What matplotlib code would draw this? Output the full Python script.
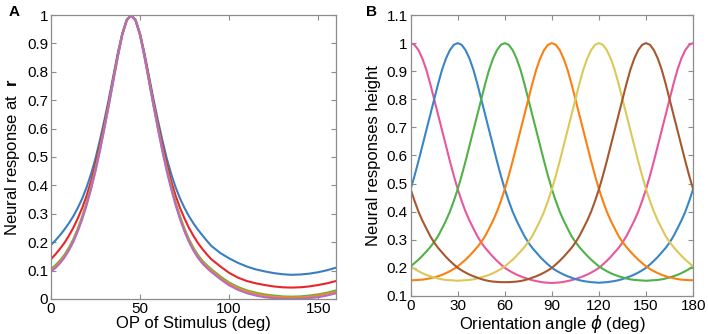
import matplotlib
matplotlib.use("Agg")
import matplotlib.pyplot as plt
from matplotlib.ticker import FuncFormatter

plt.rcParams['font.family'] = ['Liberation Sans', 'DejaVu Sans']
plt.rcParams['mathtext.fontset'] = 'custom'
plt.rcParams['mathtext.rm'] = 'Liberation Sans'
plt.rcParams['mathtext.bf'] = 'Liberation Sans:bold'
plt.rcParams['mathtext.it'] = 'DejaVu Sans:italic'

# ---- panel A data ----
xa = [0, 2.5, 5, 7.5, 10, 12.5, 15, 17.5, 20, 22.5, 25, 27.5, 30, 32.5, 35, 37.5, 40, 42.5,
      45,
      47.5, 50, 52.5, 55, 57.5, 60, 62.5, 65, 67.5, 70, 72.5, 75, 77.5, 80, 82.5, 85, 87.5, 90,
      95, 100, 105, 110, 115, 120, 125, 130, 135, 140, 145, 150, 155, 160]
a_blue = [0.19, 0.206, 0.224, 0.244, 0.266, 0.291, 0.32, 0.353, 0.393, 0.44, 0.495, 0.56, 0.63, 0.705, 0.785, 0.865, 0.935, 0.983,
          1.0,
          0.983, 0.935, 0.865, 0.785, 0.705, 0.63, 0.56, 0.495, 0.44, 0.393, 0.353, 0.32, 0.291, 0.266, 0.244, 0.224, 0.205, 0.187,
          0.162, 0.143, 0.127, 0.114, 0.104, 0.097, 0.091, 0.087, 0.085, 0.086, 0.089, 0.094, 0.101, 0.11]
a_red = [0.14, 0.157, 0.176, 0.197, 0.222, 0.25, 0.283, 0.32, 0.363, 0.415, 0.475, 0.543, 0.617, 0.695, 0.778, 0.86, 0.932, 0.982,
         1.0,
         0.982, 0.932, 0.86, 0.778, 0.695, 0.617, 0.543, 0.475, 0.415, 0.363, 0.32, 0.283, 0.25, 0.222, 0.197, 0.176, 0.157, 0.14,
         0.115, 0.092, 0.075, 0.063, 0.055, 0.049, 0.044, 0.041, 0.04, 0.041, 0.044, 0.049, 0.055, 0.063]
a_green = [0.105, 0.119, 0.135, 0.155, 0.18, 0.21, 0.247, 0.29, 0.34, 0.397, 0.46, 0.53, 0.607, 0.688, 0.772, 0.855, 0.93, 0.981,
           1.0,
           0.981, 0.93, 0.855, 0.772, 0.688, 0.607, 0.53, 0.46, 0.397, 0.34, 0.29, 0.247, 0.21, 0.18, 0.155, 0.135, 0.119, 0.105,
           0.08, 0.058, 0.042, 0.03, 0.022, 0.016, 0.012, 0.009, 0.008, 0.009, 0.012, 0.016, 0.022, 0.03]
a_orange = [0.10, 0.114, 0.13, 0.15, 0.175, 0.205, 0.242, 0.285, 0.335, 0.392, 0.455, 0.526, 0.604, 0.685, 0.77, 0.854, 0.93, 0.981,
            1.0,
            0.981, 0.93, 0.854, 0.77, 0.685, 0.604, 0.526, 0.455, 0.392, 0.335, 0.285, 0.242, 0.205, 0.175, 0.15, 0.13, 0.114, 0.10,
            0.075, 0.054, 0.038, 0.026, 0.018, 0.012, 0.008, 0.006, 0.005, 0.006, 0.008, 0.012, 0.018, 0.025]
a_purple = [0.095, 0.109, 0.125, 0.145, 0.17, 0.2, 0.237, 0.28, 0.33, 0.387, 0.45, 0.522, 0.6, 0.682, 0.767, 0.852, 0.929, 0.98,
            1.0,
            0.98, 0.929, 0.852, 0.767, 0.682, 0.6, 0.522, 0.45, 0.387, 0.33, 0.28, 0.237, 0.2, 0.17, 0.145, 0.125, 0.109, 0.095,
            0.07, 0.048, 0.032, 0.02, 0.012, 0.006, 0.003, 0.001, 0.0, 0.001, 0.003, 0.006, 0.012, 0.02]

# ---- panel B data, x every 2.5 deg from 0 to 180 ----
xb = [i * 2.5 for i in range(73)]
b_pink = [1.0, 0.994, 0.975, 0.945, 0.905, 0.855, 0.80, 0.745, 0.69, 0.635, 0.58, 0.528, 0.48,
          0.438, 0.40, 0.368, 0.34, 0.313, 0.29, 0.271, 0.255, 0.239, 0.225, 0.212, 0.20, 0.191,
          0.183, 0.176, 0.17, 0.165, 0.16, 0.156, 0.153, 0.15, 0.148, 0.147, 0.146,
          0.147, 0.148, 0.15, 0.153, 0.156, 0.16, 0.165, 0.17, 0.176, 0.183, 0.191, 0.20,
          0.212, 0.225, 0.239, 0.255, 0.271, 0.29, 0.313, 0.34, 0.368, 0.40, 0.438, 0.48,
          0.528, 0.58, 0.635, 0.69, 0.745, 0.80, 0.855, 0.905, 0.945, 0.975, 0.994, 1.0]
b_blue = [0.48, 0.528, 0.58, 0.635, 0.69, 0.745, 0.80, 0.855, 0.905, 0.945, 0.975, 0.994, 1.0,
          0.994, 0.975, 0.945, 0.905, 0.855, 0.80, 0.745, 0.69, 0.635, 0.58, 0.528, 0.48,
          0.438, 0.40, 0.368, 0.34, 0.313, 0.29, 0.271, 0.255, 0.239, 0.225, 0.212, 0.20,
          0.191, 0.183, 0.176, 0.17, 0.165, 0.16, 0.156, 0.153, 0.151, 0.149, 0.148, 0.147,
          0.148, 0.149, 0.151, 0.153, 0.156, 0.16, 0.165, 0.17, 0.176, 0.183, 0.191, 0.20,
          0.212, 0.225, 0.239, 0.255, 0.271, 0.29, 0.313, 0.34, 0.368, 0.40, 0.438, 0.48]
b_green = [0.205, 0.217, 0.229, 0.243, 0.258, 0.274, 0.292, 0.313, 0.34, 0.368, 0.40, 0.438, 0.48,
           0.528, 0.58, 0.635, 0.69, 0.745, 0.80, 0.855, 0.905, 0.945, 0.975, 0.994, 1.0,
           0.994, 0.975, 0.945, 0.905, 0.855, 0.80, 0.745, 0.69, 0.635, 0.58, 0.528, 0.48,
           0.438, 0.40, 0.368, 0.34, 0.313, 0.292, 0.274, 0.258, 0.243, 0.229, 0.217, 0.205,
           0.196, 0.188, 0.181, 0.175, 0.17, 0.166, 0.162, 0.159, 0.157, 0.156, 0.155, 0.154,
           0.155, 0.156, 0.157, 0.159, 0.162, 0.166, 0.17, 0.175, 0.181, 0.188, 0.196, 0.205]
b_orange = [0.156, 0.156, 0.157, 0.158, 0.16, 0.163, 0.166, 0.17, 0.175, 0.181, 0.188, 0.196, 0.205,
            0.217, 0.229, 0.243, 0.258, 0.274, 0.292, 0.313, 0.34, 0.368, 0.40, 0.438, 0.48,
            0.528, 0.58, 0.635, 0.69, 0.745, 0.80, 0.855, 0.905, 0.945, 0.975, 0.994, 1.0,
            0.994, 0.975, 0.945, 0.905, 0.855, 0.80, 0.745, 0.69, 0.635, 0.58, 0.528, 0.48,
            0.438, 0.40, 0.368, 0.34, 0.313, 0.292, 0.274, 0.258, 0.243, 0.229, 0.217, 0.205,
            0.196, 0.188, 0.181, 0.175, 0.17, 0.166, 0.163, 0.16, 0.158, 0.157, 0.156, 0.156]
b_yellow = [0.205, 0.196, 0.188, 0.181, 0.175, 0.17, 0.166, 0.162, 0.159, 0.157, 0.156, 0.155, 0.154,
            0.155, 0.156, 0.157, 0.159, 0.162, 0.166, 0.17, 0.175, 0.181, 0.188, 0.196, 0.205,
            0.217, 0.229, 0.243, 0.258, 0.274, 0.292, 0.313, 0.34, 0.368, 0.40, 0.438, 0.48,
            0.528, 0.58, 0.635, 0.69, 0.745, 0.80, 0.855, 0.905, 0.945, 0.975, 0.994, 1.0,
            0.994, 0.975, 0.945, 0.905, 0.855, 0.80, 0.745, 0.69, 0.635, 0.58, 0.528, 0.48,
            0.438, 0.40, 0.368, 0.34, 0.313, 0.292, 0.274, 0.258, 0.243, 0.229, 0.217, 0.205]
b_brown = [0.48, 0.438, 0.40, 0.368, 0.34, 0.313, 0.29, 0.271, 0.255, 0.239, 0.225, 0.212, 0.20,
           0.191, 0.183, 0.176, 0.17, 0.165, 0.16, 0.156, 0.153, 0.151, 0.15, 0.149, 0.149,
           0.149, 0.15, 0.151, 0.153, 0.156, 0.16, 0.165, 0.17, 0.176, 0.183, 0.191, 0.20,
           0.212, 0.225, 0.239, 0.255, 0.271, 0.29, 0.313, 0.34, 0.368, 0.40, 0.438, 0.48,
           0.528, 0.58, 0.635, 0.69, 0.745, 0.80, 0.855, 0.905, 0.945, 0.975, 0.994, 1.0,
           0.994, 0.975, 0.945, 0.905, 0.855, 0.80, 0.745, 0.69, 0.635, 0.58, 0.528, 0.48]

fmt = FuncFormatter(lambda v, p: "%g" % round(v, 2))


def style(ax):
    for s in ax.spines.values():
        s.set_color('#8c8c8c')
        s.set_linewidth(0.9)
    ax.tick_params(direction='in', top=True, right=True, length=3.5, width=0.8,
                   color='#8c8c8c', labelcolor='black', labelsize=11, pad=2)
    ax.yaxis.set_major_formatter(fmt)


fig = plt.figure(figsize=(7.08, 3.34), dpi=100)

axA = fig.add_axes([0.072, 0.105, 0.4025, 0.850])
lw = 1.5
axA.plot(xa, a_blue, color='#3a7dc0', lw=lw)
axA.plot(xa, a_red, color='#e8262a', lw=lw)
axA.plot(xa, a_green, color='#5cb24a', lw=lw)
axA.plot(xa, a_orange, color='#f5891e', lw=lw)
axA.plot(xa, a_purple, color='#b36cc6', lw=lw)
axA.set_xlim(0, 160)
axA.set_ylim(0, 1)
axA.set_xticks([0, 50, 100, 150])
axA.set_yticks([i / 10 for i in range(11)])
style(axA)
axA.set_xlabel('OP of Stimulus (deg)', fontsize=12, labelpad=0)
axA.set_ylabel(r'Neural response at  $\mathbf{r}$', fontsize=12, labelpad=4)
fig.text(0.012, 0.965, 'A', fontsize=11, fontweight='bold', va='center')

axB = fig.add_axes([0.580, 0.114, 0.399, 0.841])
axB.plot(xb, b_pink, color='#e8579b', lw=lw)
axB.plot(xb, b_blue, color='#3a85c4', lw=lw)
axB.plot(xb, b_green, color='#4fb148', lw=lw)
axB.plot(xb, b_orange, color='#fb8012', lw=lw)
axB.plot(xb, b_yellow, color='#dcc858', lw=lw)
axB.plot(xb, b_brown, color='#a6582c', lw=lw)
axB.set_xlim(0, 180)
axB.set_ylim(0.1, 1.1)
axB.set_xticks(list(range(0, 181, 30)))
axB.set_yticks([i / 10 for i in range(1, 12)])
style(axB)
axB.set_xlabel(r'Orientation angle $\phi$ (deg)', fontsize=12, labelpad=0)
axB.set_ylabel('Neural responses height', fontsize=12, labelpad=4)
fig.text(0.517, 0.965, 'B', fontsize=11, fontweight='bold', va='center')

fig.savefig('out.png', dpi=100)
